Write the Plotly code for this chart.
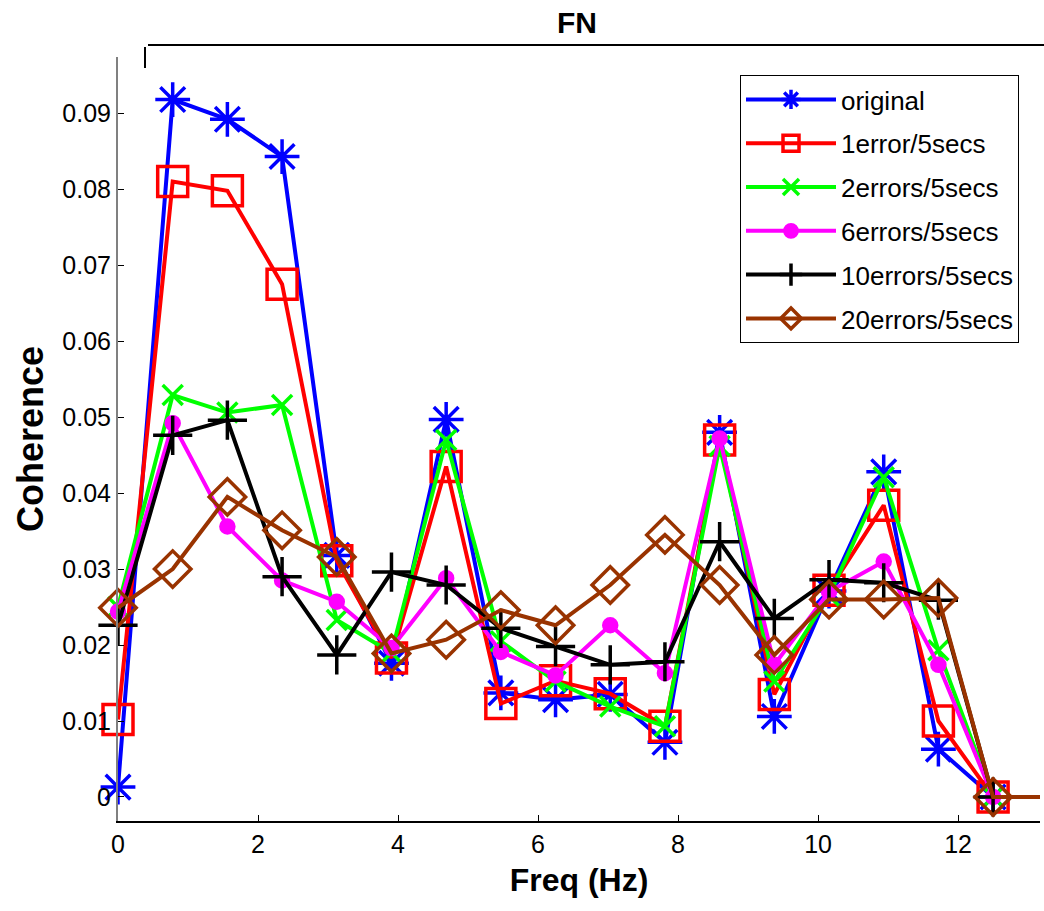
import plotly.graph_objects as go

# Frequency bins (Hz): k * 25/32
freq = [0.0, 0.78125, 1.5625, 2.34375, 3.125, 3.90625, 4.6875, 5.46875, 6.25,
        7.03125, 7.8125, 8.59375, 9.375, 10.15625, 10.9375, 11.71875, 12.5, 13.28125]

original = [0.0013, 0.0918, 0.0892, 0.0843, 0.0318, 0.0176, 0.0497, 0.0137, 0.0128,
            0.0135, 0.0072, 0.0480, 0.0106, 0.0271, 0.0428, 0.0063, 0.0, 0.0]
err1 = [0.0102, 0.0810, 0.0798, 0.0675, 0.0311, 0.0183, 0.0435, 0.0123, 0.0153,
        0.0136, 0.0093, 0.0470, 0.0135, 0.0272, 0.0384, 0.0100, 0.0, 0.0]
err2 = [0.0250, 0.0529, 0.0506, 0.0516, 0.0233, 0.0190, 0.0470, 0.0205, 0.0152,
        0.0119, 0.0093, 0.0462, 0.0152, 0.0265, 0.0421, 0.0193, 0.0, 0.0]
err6 = [0.0244, 0.0492, 0.0356, 0.0285, 0.0257, 0.0196, 0.0288, 0.0191, 0.0160,
        0.0226, 0.0163, 0.0472, 0.0174, 0.0270, 0.0310, 0.0174, 0.0, 0.0]
err10 = [0.0226, 0.0476, 0.0496, 0.0290, 0.0187, 0.0296, 0.0279, 0.0222, 0.0198,
         0.0174, 0.0178, 0.0336, 0.0235, 0.0286, 0.0282, 0.0259, 0.0, 0.0]
err20 = [0.0249, 0.0300, 0.0395, 0.0351, 0.0316, 0.0189, 0.0207, 0.0246, 0.0226,
         0.0279, 0.0345, 0.0279, 0.0187, 0.0260, 0.0260, 0.0262, 0.0, 0.0]

names = ["original", "1error/5secs", "2errors/5secs", "6errors/5secs",
         "10errors/5secs", "20errors/5secs"]

xticks = [0, 2, 4, 6, 8, 10, 12]
yticks = [0, 0.01, 0.02, 0.03, 0.04, 0.05, 0.06, 0.07, 0.08, 0.09]
yticktext = ["0", "0.01", "0.02", "0.03", "0.04", "0.05", "0.06", "0.07", "0.08", "0.09"]

series = [original, err1, err2, err6, err10, err20]
colors = ["#0000FF", "#FF0000", "#00FF00", "#FF00FF", "#000000", "#993300"]
symbols = ["asterisk-open", "square-open", "x-thin-open", "circle",
           "cross-thin-open", "diamond-open"]
msizes = [29, 30, 20, 13, 28, 28]

FONT = "Liberation Sans, Arial, Helvetica, sans-serif"

fig = go.Figure()
for i, (vals, name, c, sym, ms) in enumerate(zip(series, names, colors, symbols, msizes)):
    sizes = [ms] * (len(freq) - 1) + [0]
    fig.add_trace(go.Scatter(
        x=freq, y=vals, name=name, mode="lines+markers", legendgroup=f"g{i}",
        line=dict(color=c, width=4),
        marker=dict(symbol=sym, size=sizes, color=c, opacity=1,
                    line=dict(color=c, width=3.5)),
        cliponaxis=False,
    ))

fig.update_layout(
    width=1044, height=911,
    margin=dict(l=118, r=4, t=57, b=90),
    plot_bgcolor="white", paper_bgcolor="white",
    font=dict(family=FONT, size=25, color="black"),
    title=dict(text="<b>FN</b>", x=(577) / 1044, xanchor="center",
               y=1 - 22 / 911, yanchor="middle",
               font=dict(family=FONT, size=30, color="black")),
    showlegend=True,
    legend=dict(x=(740 - 118) / 922, y=(821 - 75) / 764, xanchor="left", yanchor="top",
                bordercolor="black", borderwidth=1, bgcolor="white",
                font=dict(family=FONT, size=26, color="black"),
                itemwidth=90, tracegroupgap=7),
)

fig.update_xaxes(
    range=[0, 13.17], tickvals=xticks, ticktext=[str(t) for t in xticks],
    showgrid=False, zeroline=False, showline=True, linecolor="black", linewidth=2,
    ticks="inside", ticklen=6, tickcolor="black", tickwidth=1,
    tickfont=dict(family=FONT, size=25),
    title=dict(text="<b>Freq (Hz)</b>", font=dict(family=FONT, size=32), standoff=12),
)
fig.update_yaxes(
    range=[-0.00316, 0.0974], tickvals=yticks, ticktext=yticktext,
    showgrid=False, zeroline=False, showline=True, linecolor="#808080", linewidth=2,
    ticks="inside", ticklen=6, tickcolor="black", tickwidth=1,
    tickfont=dict(family=FONT, size=25),
    title=dict(text="<b>Coherence</b>", font=dict(family=FONT, size=36), standoff=8),
)

# box top line and small mark (as in the reference)
fig.add_shape(type="line", xref="paper", yref="paper",
              x0=30 / 922, x1=1.01, y0=(821 - 45) / 764, y1=(821 - 45) / 764,
              line=dict(color="black", width=2))
fig.add_shape(type="line", xref="paper", yref="paper",
              x0=27 / 922, x1=27 / 922, y0=(821 - 47) / 764, y1=(821 - 68) / 764,
              line=dict(color="black", width=2))

fig.write_html("out.html")
